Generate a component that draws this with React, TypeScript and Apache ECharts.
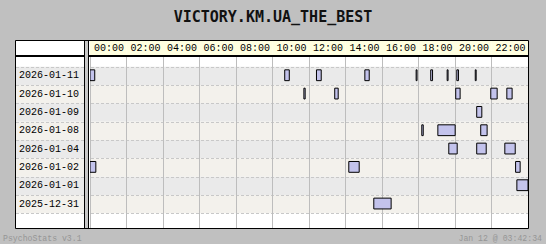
import React, { useEffect, useRef } from 'react';
import * as echarts from 'echarts';

const title = 'VICTORY.KM.UA_THE_BEST';
const footerLeft = 'PsychoStats v3.1';
const footerRight = 'Jan 12 @ 03:42:34';

const dates = ['2026-01-11', '2026-01-10', '2026-01-09', '2026-01-08', '2026-01-04', '2026-01-02', '2026-01-01', '2025-12-31'];
const hourLabels = ['00:00', '02:00', '04:00', '06:00', '08:00', '10:00', '12:00', '14:00', '16:00', '18:00', '20:00', '22:00'];

// sessions per date: [startHour, endHour]
const sessions11 = [[0, 0.26], [10.67, 10.92], [12.41, 12.67], [15.06, 15.3], [17.87, 17.92], [18.67, 18.77], [19.57, 19.62], [20.1, 20.19], [21.11, 21.16]];
const sessions10 = [[11.72, 11.79], [13.41, 13.6], [20.04, 20.28], [21.96, 22.31], [22.84, 23.13]];
const sessions09 = [[21.19, 21.47]];
const sessions08 = [[18.18, 18.26], [19.06, 20.01], [21.41, 21.76]];
const sessions04 = [[19.66, 20.12], [21.19, 21.71], [22.73, 23.3]];
const sessions02 = [[0, 0.32], [14.18, 14.75], [23.32, 23.57]];
const sessions01 = [[23.39, 24]];
const sessions1231 = [[15.55, 16.5]];
const sessionsByDate = [sessions11, sessions10, sessions09, sessions08, sessions04, sessions02, sessions01, sessions1231];

const TITLE_FONT = '"DejaVu Sans Mono", monospace';
const FONT = '"Liberation Mono", "DejaVu Sans Mono", monospace';
const ROW_A = '#eaeaea';
const ROW_B = '#f3f1ec';

export default function App() {
  const ref = useRef<HTMLDivElement>(null);
  useEffect(() => {
    const chart = echarts.init(ref.current!, null, { renderer: 'svg' });
    const barData: number[][] = [];
    sessionsByDate.forEach((list, i) => list.forEach(([s, e]) => barData.push([s, i, e])));

    const option: any = {
      animation: false,
      backgroundColor: '#c0c0c0',
      title: {
        text: title,
        left: 'center',
        top: 3,
        textStyle: { fontFamily: TITLE_FONT, fontSize: 15, fontWeight: 'bold', color: '#111', lineHeight: 18 },
      },
      grid: { left: 90, right: 18, top: 57, bottom: 16, containLabel: false },
      xAxis: {
        type: 'value', min: 0, max: 24, interval: 2,
        axisLine: { show: false }, axisTick: { show: false }, axisLabel: { show: false },
        splitLine: { show: true, lineStyle: { color: '#bdbdbd', width: 1, type: 'solid' } },
      },
      yAxis: {
        type: 'value', inverse: true, min: -0.53, max: 8.8, show: false,
        splitLine: { show: false },
      },
      graphic: [
        { type: 'rect', z: -20, shape: { x: 16, y: 41, width: 512, height: 187 }, style: { fill: '#ffffff' } },
        { type: 'rect', z: 90, shape: { x: 16, y: 55, width: 512, height: 2 }, style: { fill: '#000' } },
        { type: 'rect', z: 95, shape: { x: 84, y: 41, width: 1, height: 187 }, style: { fill: '#000' } },
        { type: 'rect', z: 95, shape: { x: 85, y: 41, width: 3, height: 187 }, style: { fill: '#c8c8c8' } },
        { type: 'rect', z: 95, shape: { x: 88, y: 41, width: 1, height: 187 }, style: { fill: '#000' } },
        { type: 'rect', z: 100, shape: { x: 15.5, y: 40.5, width: 513, height: 188 }, style: { fill: 'none', stroke: '#000', lineWidth: 1 } },
        { type: 'text', z: 100, style: { text: footerLeft, x: 3, y: 238, align: 'left', verticalAlign: 'middle', font: `8.2px ${FONT}`, fill: '#969696' } },
        { type: 'text', z: 100, style: { text: footerRight, x: 542, y: 238, align: 'right', verticalAlign: 'middle', font: `8.2px ${FONT}`, fill: '#969696' } },
      ],
      series: [
        {
          type: 'custom',
          z: -1,
          silent: true,
          data: dates.map((d, i) => [0, i]),
          encode: { x: 0, y: 1 },
          renderItem: (params: any, api: any) => {
            const i = api.value(1);
            const top = api.coord([0, i])[1];
            const bot = api.coord([0, i + 1])[1];
            const xl = api.coord([0, i])[0];
            const xr = api.coord([24, i])[0];
            const fill = i % 2 === 0 ? ROW_A : ROW_B;
            const yt = Math.round(top) + 0.5;
            const children: any[] = [
              { type: 'rect', shape: { x: 16, y: top, width: 68, height: bot - top }, style: { fill } },
              { type: 'rect', shape: { x: xl, y: top, width: xr - xl, height: bot - top }, style: { fill } },
              { type: 'line', shape: { x1: 16, y1: yt, x2: xr, y2: yt }, style: { stroke: '#c8c8c8', lineWidth: 1, lineDash: [3, 2] } },
              {
                type: 'text',
                style: { text: dates[i], x: 19, y: (top + bot) / 2, align: 'left', verticalAlign: 'middle', font: `10px ${FONT}`, fill: '#000' },
              },
            ];
            if (i === dates.length - 1) {
              const yb = Math.round(bot) + 0.5;
              children.push({ type: 'line', shape: { x1: 16, y1: yb, x2: xr, y2: yb }, style: { stroke: '#c8c8c8', lineWidth: 1, lineDash: [3, 2] } });
            }
            return { type: 'group', children };
          },
        },
        {
          type: 'custom',
          z: 1,
          silent: true,
          clip: false,
          data: hourLabels.map((l, k) => [k * 2, 0]),
          encode: { x: 0, y: 1 },
          renderItem: (params: any, api: any) => {
            const h = api.value(0);
            const x1 = api.coord([h, 0])[0];
            const x2 = api.coord([h + 2, 0])[0];
            const xs = Math.round(x2) + 0.5;
            return {
              type: 'group',
              children: [
                { type: 'rect', shape: { x: x1, y: 41, width: x2 - x1, height: 14 }, style: { fill: '#ffffe0' } },
                { type: 'line', shape: { x1: xs, y1: 41, x2: xs, y2: 55 }, style: { stroke: '#bdbdbd', lineWidth: 1 } },
                {
                  type: 'text',
                  style: { text: hourLabels[params.dataIndex], x: x1 + 4, y: 48.5, align: 'left', verticalAlign: 'middle', font: `10px ${FONT}`, fill: '#000' },
                },
              ],
            };
          },
        },
        {
          type: 'custom',
          z: 2,
          silent: true,
          clip: true,
          data: barData,
          encode: { x: [0, 2], y: 1 },
          renderItem: (params: any, api: any) => {
            const s = api.value(0);
            const i = api.value(1);
            const e = api.value(2);
            const p1 = api.coord([s, i + 0.17]);
            const p2 = api.coord([e, i + 0.76]);
            return {
              type: 'rect',
              shape: { x: p1[0], y: p1[1], width: p2[0] - p1[0], height: p2[1] - p1[1] },
              style: { fill: '#c3c3ec', stroke: '#000', lineWidth: 1 },
            };
          },
        },
      ],
    };
    chart.setOption(option);
    return () => chart.dispose();
  }, []);
  return <div ref={ref} style={{ position: 'fixed', left: 0, top: 0, width: 546, height: 244 }} />;
}
